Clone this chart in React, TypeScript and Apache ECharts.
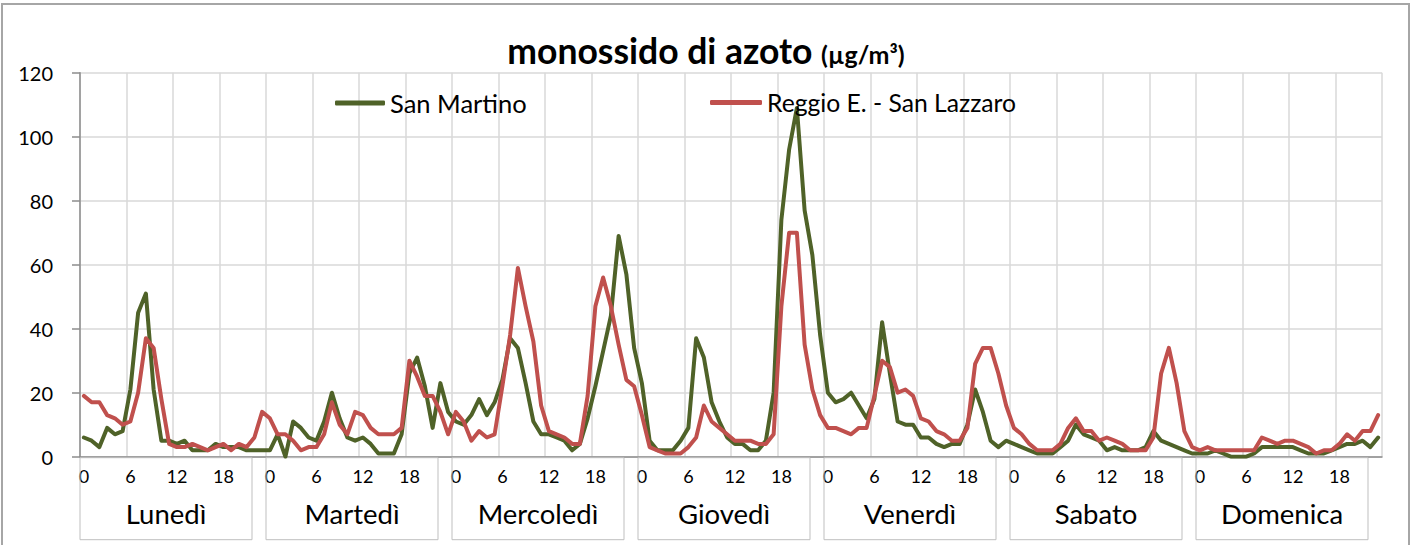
import React, { useEffect, useRef } from 'react';
import * as echarts from 'echarts';

const DAYS = ['Lunedì', 'Martedì', 'Mercoledì', 'Giovedì', 'Venerdì', 'Sabato', 'Domenica'];
const HOURS = [0, 1, 2, 3, 4, 5, 6, 7, 8, 9, 10, 11, 12, 13, 14, 15, 16, 17, 18, 19, 20, 21, 22, 23];

// San Martino (green), one array per day, hourly values
const G_LUN = [6, 5, 3, 9, 7, 8, 21, 45, 51, 21, 5, 5, 4, 5, 2, 2, 2, 4, 3, 3, 3, 2, 2, 2];
const G_MAR = [2, 7, 0, 11, 9, 6, 5, 11, 20, 12, 6, 5, 6, 4, 1, 1, 1, 7, 26, 31, 22, 9, 23, 14];
const G_MER = [11, 10, 13, 18, 13, 17, 24, 37, 34, 23, 11, 7, 7, 6, 5, 2, 4, 12, 22, 33, 44, 69, 57, 34];
const G_GIO = [23, 5, 2, 2, 2, 5, 9, 37, 31, 17, 11, 6, 4, 4, 2, 2, 5, 20, 74, 96, 109, 77, 63, 38];
const G_VEN = [20, 17, 18, 20, 16, 12, 18, 42, 26, 11, 10, 10, 6, 6, 4, 3, 4, 4, 10, 21, 14, 5, 3, 5];
const G_SAB = [4, 3, 2, 1, 1, 1, 3, 5, 10, 7, 6, 5, 2, 3, 2, 2, 2, 3, 8, 5, 4, 3, 2, 1];
const G_DOM = [1, 1, 2, 1, 0, 0, 0, 1, 3, 3, 3, 3, 3, 2, 1, 1, 1, 2, 3, 4, 4, 5, 3, 6];

// Reggio E. - San Lazzaro (red)
const R_LUN = [19, 17, 17, 13, 12, 10, 11, 20, 37, 34, 18, 4, 3, 3, 4, 3, 2, 3, 4, 2, 4, 3, 6, 14];
const R_MAR = [12, 7, 7, 5, 2, 3, 3, 7, 17, 10, 7, 14, 13, 9, 7, 7, 7, 9, 30, 25, 19, 19, 14, 7];
const R_MER = [14, 11, 5, 8, 6, 7, 22, 38, 59, 47, 36, 16, 8, 7, 6, 4, 4, 19, 47, 56, 47, 35, 24, 22];
const R_GIO = [13, 3, 2, 1, 1, 1, 3, 6, 16, 11, 9, 7, 5, 5, 5, 4, 4, 7, 47, 70, 70, 35, 21, 13];
const R_VEN = [9, 9, 8, 7, 9, 9, 19, 30, 28, 20, 21, 19, 12, 11, 8, 7, 5, 5, 9, 29, 34, 34, 26, 16];
const R_SAB = [9, 7, 4, 2, 2, 2, 4, 9, 12, 8, 8, 5, 6, 5, 4, 2, 2, 2, 6, 26, 34, 23, 8, 3];
const R_DOM = [2, 3, 2, 2, 2, 2, 2, 2, 6, 5, 4, 5, 5, 4, 3, 1, 2, 2, 4, 7, 5, 8, 8, 13];

const SERIES_NAMES = ['San Martino', 'Reggio E. - San Lazzaro'];
const SAN_MARTINO = [...G_LUN, ...G_MAR, ...G_MER, ...G_GIO, ...G_VEN, ...G_SAB, ...G_DOM];
const SAN_LAZZARO = [...R_LUN, ...R_MAR, ...R_MER, ...R_GIO, ...R_VEN, ...R_SAB, ...R_DOM];
const CATEGORIES = DAYS.flatMap((d) => HOURS.map((h) => `${d} ${h}`));

const FONT = 'Lato';
const GREEN = '#4F6228';
const RED = '#C0504D';
const AXIS_GRAY = '#8c8c8c';
const GRID_GRAY = '#d9d9d9';

export default function App() {
  const ref = useRef<HTMLDivElement>(null);
  useEffect(() => {
    document.body.style.margin = '0';
    const chart = echarts.init(ref.current!, null, { renderer: 'svg' });
    const hoursPerDay = HOURS.length;
    const total = CATEGORIES.length;
    chart.setOption({
      animation: false,
      textStyle: { fontFamily: FONT },
      title: {
        text: '{a|monossido di azoto }{b|(µg/m³)}',
        left: 'center',
        top: 21,
        textStyle: {
          rich: {
            a: { fontSize: 35.5, fontWeight: 'bold', color: '#000', fontFamily: FONT, lineHeight: 42, verticalAlign: 'bottom' },
            b: { fontSize: 25, fontWeight: 'bold', color: '#000', fontFamily: FONT, lineHeight: 42, verticalAlign: 'bottom', padding: [0, 0, 2, 0] },
          },
        },
      },
      legend: [
        {
          data: [SERIES_NAMES[0]],
          left: 335,
          top: 90,
          padding: 0,
          icon: 'roundRect',
          itemWidth: 50,
          itemHeight: 5,
          textStyle: { fontSize: 25.5, color: '#000', fontFamily: FONT },
        },
        {
          data: [SERIES_NAMES[1]],
          left: 710,
          top: 90,
          padding: 0,
          icon: 'roundRect',
          itemWidth: 52,
          itemHeight: 5,
          textStyle: { fontSize: 24.7, color: '#000', fontFamily: FONT },
        },
      ],
      grid: { left: 80, right: 30, top: 72.7, bottom: 88.3, containLabel: false },
      xAxis: [
        {
          type: 'category',
          data: CATEGORIES,
          boundaryGap: true,
          axisLine: { lineStyle: { color: AXIS_GRAY, width: 1.5 } },
          axisTick: { interval: 5, length: 6, lineStyle: { color: AXIS_GRAY, width: 1.5 } },
          axisLabel: {
            interval: 5,
            formatter: (v: string) => v.split(' ')[1],
            fontSize: 18,
            color: '#000',
            margin: 10,
            fontFamily: FONT,
          },
          splitLine: { show: true, interval: 5, lineStyle: { color: GRID_GRAY, width: 1.5 } },
        },
        {
          type: 'value',
          min: 0,
          max: total,
          interval: hoursPerDay,
          position: 'bottom',
          axisLine: { show: false },
          axisTick: { show: false },
          splitLine: { show: false },
          axisLabel: {
            showMaxLabel: false,
            showMinLabel: true,
            align: 'left',
            verticalAlign: 'top',
            margin: 1,
            borderColor: '#bfbfbf',
            borderWidth: 1,
            padding: [36, 0, 6, 0],
            formatter: (v: number) => {
              const idx = Math.round(v / hoursPerDay);
              return idx < DAYS.length ? `{box|${DAYS[idx]}}` : '';
            },
            rich: {
              box: {
                width: 172,
                lineHeight: 40,
                align: 'center',
                fontSize: 27.5,
                color: '#000',
                fontFamily: FONT,
              },
            },
          },
        },
      ],
      yAxis: {
        type: 'value',
        min: 0,
        max: 120,
        interval: 20,
        axisLine: { show: true, lineStyle: { color: AXIS_GRAY, width: 1.5 } },
        axisTick: { show: true, length: 8, lineStyle: { color: AXIS_GRAY, width: 1.5 } },
        axisLabel: { fontSize: 20, color: '#000', margin: 27, fontFamily: FONT },
        splitLine: { lineStyle: { color: GRID_GRAY, width: 1.5 } },
      },
      series: [
        {
          name: SERIES_NAMES[0],
          type: 'line',
          data: SAN_MARTINO,
          symbol: 'none',
          color: GREEN,
          lineStyle: { width: 4, color: GREEN, join: 'round', cap: 'round' },
        },
        {
          name: SERIES_NAMES[1],
          type: 'line',
          data: SAN_LAZZARO,
          symbol: 'none',
          color: RED,
          lineStyle: { width: 4, color: RED, join: 'round', cap: 'round' },
        },
      ],
    });
    return () => chart.dispose();
  }, []);
  return (
    <div style={{ position: 'relative', width: 1412, height: 545, background: '#fff', overflow: 'hidden' }}>
      <div ref={ref} style={{ position: 'absolute', left: 0, top: 0, width: 1412, height: 545 }} />
      <div
        style={{
          position: 'absolute',
          left: 1,
          top: 3,
          width: 1409,
          height: 600,
          border: '2px solid #a6a6a6',
          boxSizing: 'border-box',
          pointerEvents: 'none',
        }}
      />
    </div>
  );
}
